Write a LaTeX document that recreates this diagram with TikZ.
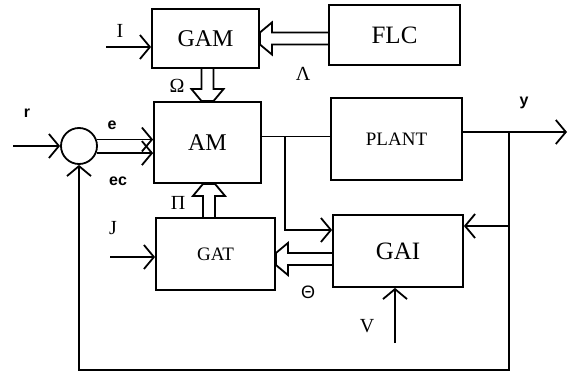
\documentclass[tikz,border=0pt]{standalone}
\usepackage{fontspec}
\setmainfont{Liberation Serif}
\setsansfont{Liberation Sans}
\usetikzlibrary{arrows.meta,positioning,calc}
\tikzset{
  blk/.style={rectangle,draw,line width=0.9pt,inner sep=0pt},
  sumnode/.style={circle,draw,line width=0.9pt,minimum size=18pt,inner sep=0pt},
  sig/.style={line width=0.9pt},
  arr/.style={-{Straight Barb[length=5pt,width=12pt]},line width=0.9pt},
  fat/.style={line width=0.9pt,line join=miter},
  lbl/.style={inner sep=0pt,font=\fontsize{10}{10}\selectfont},
  slbl/.style={inner sep=0pt,font=\sffamily\bfseries\fontsize{8}{8}\selectfont}
}
% hollow double-line arrow from #1 to #2
\newcommand{\hollowarrow}[2]{%
  \coordinate (hah) at ($(#2)!6pt!(#1)$);
  \draw[fat] ($(#1)!3pt!90:(#2)$) -- ($(hah)!3pt!90:(#2)$) -- ($(hah)!8pt!90:(#2)$)
    -- ($(#2)!3pt!-90:(#1)$) -- ($(#2)!3pt!90:(#1)$) -- ($(hah)!8pt!-90:(#2)$)
    -- ($(hah)!3pt!-90:(#2)$) -- ($(#1)!3pt!-90:(#2)$);
}

\begin{document}
\begin{tikzpicture}[x=0.5pt,y=-0.5pt]
\useasboundingbox (0,0) rectangle (572,374);
% blocks
\node[blk,minimum width=53.5pt,minimum height=29.5pt,font=\fontsize{12}{12}\selectfont] (GAM) at (205.5,38.5) {GAM};
\node[blk,minimum width=65.5pt,minimum height=30pt,font=\fontsize{12.5}{12.5}\selectfont] (FLC) at (394.5,35) {FLC};
\node[blk,minimum width=53.5pt,minimum height=40.5pt,font=\fontsize{12}{12}\selectfont] (AM) at (207.5,142.5) {AM};
\node[blk,minimum width=65.5pt,minimum height=41pt,font=\fontsize{9.5}{9.5}\selectfont] (PLANT) at (396.5,139) {PLANT};
\node[blk,minimum width=65pt,minimum height=36pt,font=\fontsize{12.5}{12.5}\selectfont] (GAI) at (398,251) {GAI};
\node[blk,minimum width=59.5pt,minimum height=36pt,font=\fontsize{9.5}{9.5}\selectfont] (GAT) at (215.5,254) {GAT};
\node[sumnode] (S) at (79,146) {};

% reference and error signals
\coordinate (rin) at (13,146);
\draw[arr] (rin) -- (S.west);
\draw[arr] (S.20) -- (S.20 -| AM.west);
\draw[arr] (S.-22) -- (S.-22 -| AM.west);

% plant path and output
\coordinate (amo) at ([yshift=3pt]AM.east);
\draw[sig] (amo) -- (amo -| PLANT.west);
\coordinate (po) at ([yshift=3.5pt]PLANT.east);
\coordinate (yout) at (567,132);
\draw[arr] (po) -- (yout);

% feedback
\coordinate (fb) at (509,132);
\coordinate (bot) at (0,370);
\draw[arr] (fb) |- (S.south |- bot) -- (S.south);
\coordinate (gi) at (509,226);
\draw[arr] (gi) -- (gi -| GAI.east);
\coordinate (br) at (285,0);
\coordinate (gl) at (0,230);
\draw[arr] (br |- amo) |- (GAI.west |- gl);

% external inputs
\coordinate (iin) at (106,47);
\draw[arr] (iin) -- (iin -| GAM.west);
\coordinate (jin) at (110,257);
\draw[arr] (jin) -- (jin -| GAT.west);
\coordinate (vin) at (395,343);
\draw[arr] (vin) -- (vin |- GAI.south);

% hollow arrows
\coordinate (laa) at (GAM.east -| FLC.west);
\hollowarrow{laa}{GAM.east}
\coordinate (oma) at (AM.north |- GAM.south);
\hollowarrow{oma}{AM.north}
\coordinate (pix) at (209,0);
\coordinate (pia) at (pix |- GAT.north);
\coordinate (pib) at (pix |- AM.south);
\hollowarrow{pia}{pib}
\coordinate (tha) at ([yshift=-4pt]GAI.west);
\coordinate (thb) at (tha -| GAT.east);
\hollowarrow{tha}{thb}

% labels
\node[lbl] (Il) at (120,31) {I};
\node[lbl] (Jl) at (113,228) {J};
\node[lbl] (Vl) at (367,326) {V};
\node[lbl] (Oml) at (177,86) {Ω};
\node[lbl] (Lal) at (303,74) {Λ};
\node[lbl] (Pil) at (178,203) {Π};
\node[lbl,font=\sffamily\fontsize{9}{9}\selectfont] (Thl) at (308,292) {Θ};
\node[slbl] (rl) at (27,113) {r};
\node[slbl] (el) at (112,125) {e};
\node[slbl] (ecl) at (118,181) {ec};
\node[slbl] (yl) at (524,103) {y};
\end{tikzpicture}
\end{document}
